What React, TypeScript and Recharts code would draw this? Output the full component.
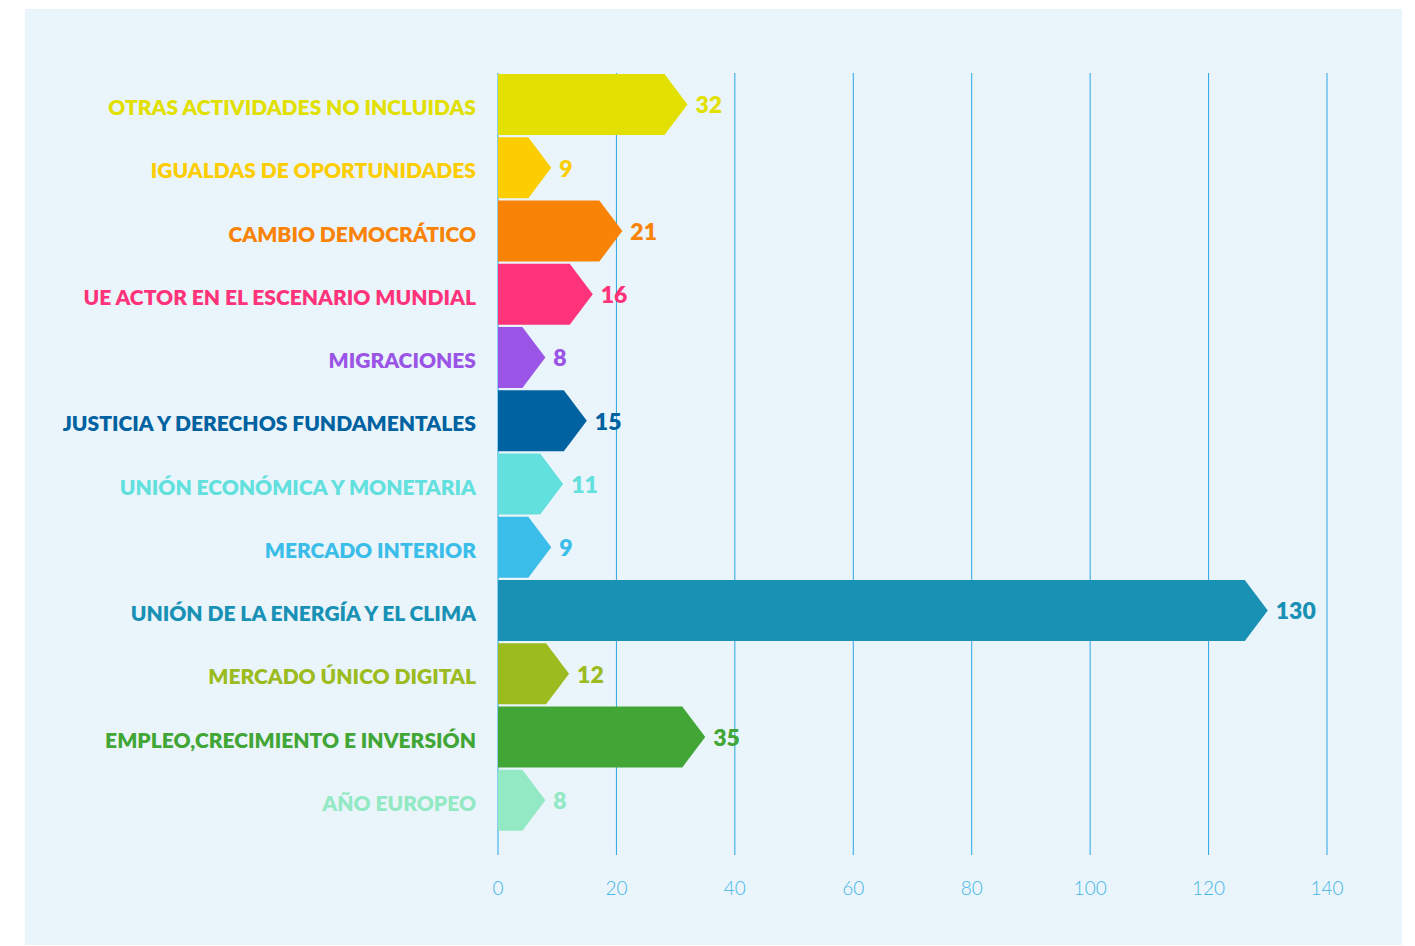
import React from 'react';
import { BarChart, Bar, XAxis, YAxis, CartesianGrid, Cell, LabelList } from 'recharts';

const categories = [
  'OTRAS ACTIVIDADES NO INCLUIDAS',
  'IGUALDAS DE OPORTUNIDADES',
  'CAMBIO DEMOCRÁTICO',
  'UE ACTOR EN EL ESCENARIO MUNDIAL',
  'MIGRACIONES',
  'JUSTICIA Y DERECHOS FUNDAMENTALES',
  'UNIÓN ECONÓMICA Y MONETARIA',
  'MERCADO INTERIOR',
  'UNIÓN DE LA ENERGÍA Y EL CLIMA',
  'MERCADO ÚNICO DIGITAL',
  'EMPLEO,CRECIMIENTO E INVERSIÓN',
  'AÑO EUROPEO',
];

const values = [32, 9, 21, 16, 8, 15, 11, 9, 130, 12, 35, 8];

const xTicks = [0, 20, 40, 60, 80, 100, 120, 140];

// palette, one per category
const COLORS = [
  '#e2e000', '#fccd00', '#f98306', '#ff337a', '#9a55e6', '#0062a0',
  '#62e0de', '#3bbde9', '#1891b5', '#9bbb1e', '#41a636', '#93e9c4',
];

const data = categories.map((name, i) => ({ name, value: values[i], color: COLORS[i] }));

const FONT = 'Lato, "Open Sans", sans-serif';

function ArrowBar(props: any) {
  const { x, y, width, height, fill } = props;
  if (width <= 0) return null;
  const tip = Math.min(23, width);
  const pts = [
    [x, y],
    [x + width - tip, y],
    [x + width, y + height / 2],
    [x + width - tip, y + height],
    [x, y + height],
  ].map(p => p.join(',')).join(' ');
  return <polygon points={pts} fill={fill} />;
}

function CategoryTick(props: any) {
  const { x, y, payload, index } = props;
  return (
    <text
      x={x - 14}
      y={y + 5}
      textAnchor="end"
      dominantBaseline="middle"
      fill={COLORS[index]}
      fontFamily={FONT}
      fontWeight={800}
      fontSize={21}
    >
      {payload.value}
    </text>
  );
}

function NumberTick(props: any) {
  const { x, y, payload } = props;
  return (
    <text
      x={x}
      y={y + 27}
      textAnchor="middle"
      dominantBaseline="middle"
      fill="#45b6e8"
      fontFamily={FONT}
      fontWeight={300}
      fontSize={19}
    >
      {payload.value}
    </text>
  );
}

function ValueLabel(props: any) {
  const { x, y, width, height, value, index } = props;
  return (
    <text
      x={x + width + 8}
      y={y + height / 2 + 3}
      dominantBaseline="middle"
      fill={COLORS[index]}
      fontFamily={FONT}
      fontWeight={800}
      fontSize={23}
    >
      {value}
    </text>
  );
}

export default function App() {
  return (
    <div style={{ position: 'absolute', left: 25, top: 9, width: 1377, height: 936, background: '#eaf5fb' }}>
      <BarChart
        width={1377}
        height={936}
        data={data}
        layout="vertical"
        margin={{ top: 64, right: 75, left: 0, bottom: 0 }}
        barCategoryGap={1}
      >
        <CartesianGrid horizontal={false} stroke="#2aa6e6" strokeWidth={1} />
        <XAxis
          type="number"
          domain={[0, 140]}
          ticks={xTicks}
          height={90}
          axisLine={false}
          tickLine={false}
          tick={<NumberTick />}
          interval={0}
        />
        <YAxis
          type="category"
          dataKey="name"
          width={473}
          axisLine={false}
          tickLine={false}
          tick={<CategoryTick />}
          interval={0}
          padding={{ top: 0, bottom: 23 }}
        />
        <Bar dataKey="value" shape={<ArrowBar />} isAnimationActive={false}>
          {data.map((d, i) => (
            <Cell key={`cell-${i}`} fill={d.color} />
          ))}
          <LabelList dataKey="value" content={<ValueLabel />} />
        </Bar>
      </BarChart>
    </div>
  );
}
